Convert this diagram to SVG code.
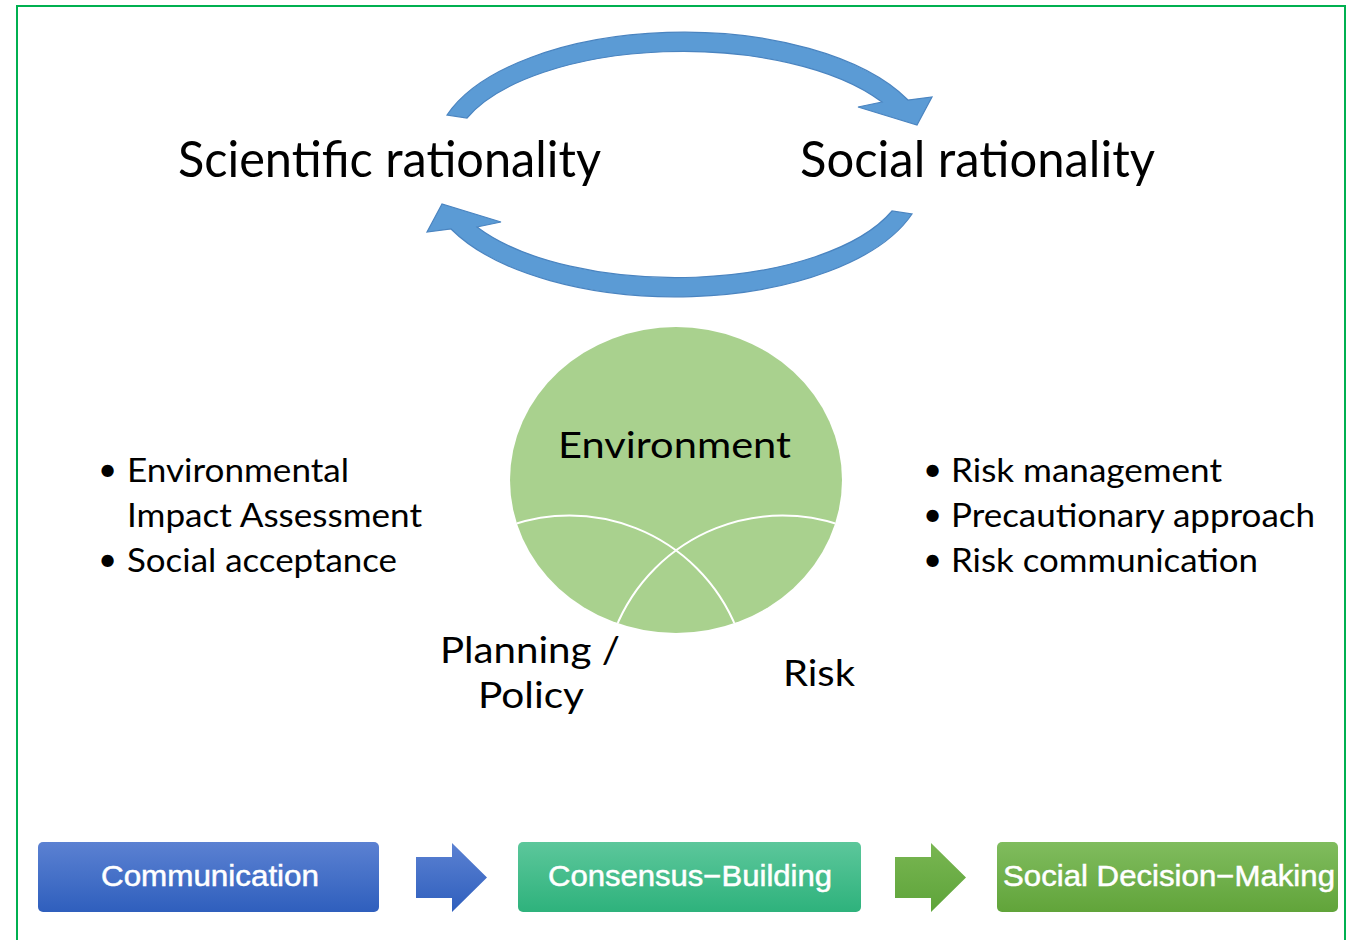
<svg xmlns="http://www.w3.org/2000/svg" xmlns:xlink="http://www.w3.org/1999/xlink" width="1347" height="940" viewBox="0 0 1347 940">
  <style>
    .cal { font-family: Lato, "Open Sans", "Liberation Sans", sans-serif; fill: #000; }
    .title { font-size: 51px; }
    .bul { font-size: 33px; }
    .mid { font-size: 37px; }
    .btn { font-family: "Liberation Sans", Arial, sans-serif; font-size: 29px; fill: #fff; stroke: #fff; stroke-width: 0.5; }
    .arc { fill: none; stroke: #fff; stroke-width: 2; }
    .curv { fill: #5b9bd5; stroke: #4a84c0; stroke-width: 1.2; }
  </style>
  <defs>
    <linearGradient id="gBlue" x1="0" y1="0" x2="0" y2="1">
      <stop offset="0" stop-color="#5b81d2"/>
      <stop offset="1" stop-color="#2f5fbd"/>
    </linearGradient>
    <linearGradient id="gTeal" x1="0" y1="0" x2="0" y2="1">
      <stop offset="0" stop-color="#5cc79b"/>
      <stop offset="1" stop-color="#2eb27c"/>
    </linearGradient>
    <linearGradient id="gGreen" x1="0" y1="0" x2="0" y2="1">
      <stop offset="0" stop-color="#80bc5e"/>
      <stop offset="1" stop-color="#61a43a"/>
    </linearGradient>
    <linearGradient id="gGreenArrow" x1="0" y1="0" x2="0" y2="1">
      <stop offset="0" stop-color="#79b652"/>
      <stop offset="1" stop-color="#5ea43a"/>
    </linearGradient>
    <clipPath id="clipEnv">
      <ellipse cx="676" cy="480" rx="166" ry="153"/>
    </clipPath>
    <path id="curvedArrow" class="curv" d="M447,115 A249,120 0 0 1 908,100 L932,97 L917,125 L858,107 L882,102 A231,103 0 0 0 467,118 Z"/>
  </defs>

  <rect x="0" y="0" width="1347" height="940" fill="#fff"/>
  <rect id="frame" x="17" y="6" width="1328" height="960" fill="none" stroke="#00b050" stroke-width="2"/>

  <g id="connectors">
    <use xlink:href="#curvedArrow" href="#curvedArrow"/>
    <use xlink:href="#curvedArrow" href="#curvedArrow" transform="rotate(180 679.5 164.5)"/>
    <polygon points="416,857 452,857 452,843 487,877.5 452,912 452,898 416,898" fill="url(#gBlue)"/>
    <polygon points="895,857 931,857 931,843 966,877.5 931,912 931,898 895,898" fill="url(#gGreenArrow)"/>
  </g>

  <g id="scientific">
    <text class="cal title" x="178" y="177" textLength="423" lengthAdjust="spacingAndGlyphs">Scientific rationality</text>
  </g>
  <g id="social">
    <text class="cal title" x="800" y="177" textLength="355" lengthAdjust="spacingAndGlyphs">Social rationality</text>
  </g>

  <g id="environment">
    <ellipse cx="676" cy="480" rx="166" ry="153" fill="#a9d18e"/>
    <g clip-path="url(#clipEnv)">
      <circle class="arc" cx="569.5" cy="695.5" r="180"/>
      <circle class="arc" cx="782.5" cy="695.5" r="180"/>
    </g>
    <text class="cal mid" x="558" y="458" textLength="233" lengthAdjust="spacingAndGlyphs">Environment</text>
  </g>

  <g id="planning">
    <text class="cal mid" x="440" y="663" textLength="180" lengthAdjust="spacingAndGlyphs">Planning /</text>
    <text class="cal mid" x="478" y="708" textLength="106" lengthAdjust="spacingAndGlyphs">Policy</text>
  </g>
  <g id="risk">
    <text class="cal mid" x="783" y="686" textLength="72" lengthAdjust="spacingAndGlyphs">Risk</text>
  </g>

  <g id="left-list">
    <text class="cal bul" x="98" y="481">•</text>
    <text class="cal bul" x="127" y="482" textLength="222" lengthAdjust="spacingAndGlyphs">Environmental</text>
    <text class="cal bul" x="127" y="527" textLength="295" lengthAdjust="spacingAndGlyphs">Impact Assessment</text>
    <text class="cal bul" x="98" y="571">•</text>
    <text class="cal bul" x="127" y="572" textLength="270" lengthAdjust="spacingAndGlyphs">Social acceptance</text>
  </g>

  <g id="right-list">
    <text class="cal bul" x="923" y="481">•</text>
    <text class="cal bul" x="951" y="482" textLength="271" lengthAdjust="spacingAndGlyphs">Risk management</text>
    <text class="cal bul" x="923" y="526">•</text>
    <text class="cal bul" x="951" y="527" textLength="364" lengthAdjust="spacingAndGlyphs">Precautionary approach</text>
    <text class="cal bul" x="923" y="571">•</text>
    <text class="cal bul" x="951" y="572" textLength="307" lengthAdjust="spacingAndGlyphs">Risk communication</text>
  </g>

  <g id="communication">
    <rect x="38" y="842" width="341" height="70" rx="5" fill="url(#gBlue)"/>
    <text class="btn" x="101" y="886" textLength="218" lengthAdjust="spacingAndGlyphs">Communication</text>
  </g>
  <g id="consensus">
    <rect x="518" y="842" width="343" height="70" rx="5" fill="url(#gTeal)"/>
    <text class="btn" x="548" y="886" textLength="284" lengthAdjust="spacingAndGlyphs">Consensus−Building</text>
  </g>
  <g id="decision">
    <rect x="997" y="842" width="341" height="70" rx="5" fill="url(#gGreen)"/>
    <text class="btn" x="1003" y="886" textLength="332" lengthAdjust="spacingAndGlyphs">Social Decision−Making</text>
  </g>
</svg>
